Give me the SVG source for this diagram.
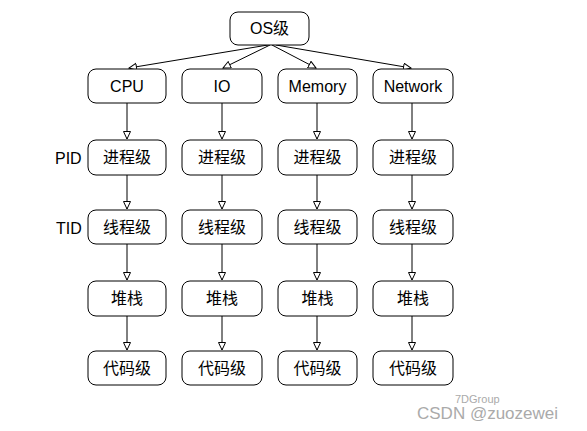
<svg xmlns="http://www.w3.org/2000/svg" width="587" height="431" viewBox="0 0 587 431">
<style>
.box{fill:#fff;stroke:#000;stroke-width:1}
.t{font-family:"Liberation Sans","Noto Sans CJK SC",sans-serif;font-size:16px;fill:#000;text-anchor:middle}
.lbl{font-family:"Liberation Sans","Noto Sans CJK SC",sans-serif;font-size:16px;fill:#000}
.c{stroke:#000;stroke-width:1;fill:none;marker-end:url(#a)}
.wm{font-family:"Liberation Sans",sans-serif;fill:#aaa}
</style>
<defs>
<marker id="a" markerUnits="userSpaceOnUse" markerWidth="10" markerHeight="10" refX="8" refY="4" orient="auto">
<path d="M0.5,0.5 L8,4 L0.5,7.5 Z" fill="#fff" stroke="#000" stroke-width="1"/>
</marker>
</defs>
<rect width="587" height="431" fill="#fff"/>
<g id="connectors">
<line class="c" x1="268" y1="45" x2="129" y2="68"/>
<line class="c" x1="270" y1="45" x2="223" y2="68"/>
<line class="c" x1="272" y1="45" x2="316" y2="68"/>
<line class="c" x1="276" y1="45" x2="411" y2="68"/>
<line class="c" x1="127" y1="103" x2="127" y2="139"/>
<line class="c" x1="222" y1="103" x2="222" y2="139"/>
<line class="c" x1="317" y1="103" x2="317" y2="139"/>
<line class="c" x1="412" y1="103" x2="412" y2="139"/>
<line class="c" x1="127" y1="175" x2="127" y2="209"/>
<line class="c" x1="222" y1="175" x2="222" y2="209"/>
<line class="c" x1="317" y1="175" x2="317" y2="209"/>
<line class="c" x1="412" y1="175" x2="412" y2="209"/>
<line class="c" x1="127" y1="244" x2="127" y2="280"/>
<line class="c" x1="222" y1="244" x2="222" y2="280"/>
<line class="c" x1="317" y1="244" x2="317" y2="280"/>
<line class="c" x1="412" y1="244" x2="412" y2="280"/>
<line class="c" x1="127" y1="316" x2="127" y2="350"/>
<line class="c" x1="222" y1="316" x2="222" y2="350"/>
<line class="c" x1="317" y1="316" x2="317" y2="350"/>
<line class="c" x1="412" y1="316" x2="412" y2="350"/>
</g>
<g id="os"><rect class="box" x="230" y="12" width="79" height="33" rx="8"/><text class="t" x="269.5" y="34">OS级</text></g>
<g id="cpu"><rect class="box" x="88" y="69" width="78" height="34" rx="8"/><text class="t" x="127" y="92">CPU</text></g>
<g id="io"><rect class="box" x="182" y="69" width="80" height="34" rx="8"/><text class="t" x="222" y="92">IO</text></g>
<g id="memory"><rect class="box" x="278" y="69" width="79" height="34" rx="8"/><text class="t" x="317.5" y="92">Memory</text></g>
<g id="network"><rect class="box" x="373" y="69" width="80" height="34" rx="8"/><text class="t" x="413" y="92">Network</text></g>
<g id="pid-label"><text class="lbl" x="55" y="164">PID</text></g>
<g id="tid-label"><text class="lbl" x="56" y="234">TID</text></g>
<g id="cpu-proc"><rect class="box" x="88" y="140" width="78" height="35" rx="8"/><text class="t" x="127" y="163">进程级</text></g>
<g id="io-proc"><rect class="box" x="182" y="140" width="80" height="35" rx="8"/><text class="t" x="222" y="163">进程级</text></g>
<g id="mem-proc"><rect class="box" x="278" y="140" width="79" height="35" rx="8"/><text class="t" x="317.5" y="163">进程级</text></g>
<g id="net-proc"><rect class="box" x="373" y="140" width="80" height="35" rx="8"/><text class="t" x="413" y="163">进程级</text></g>
<g id="cpu-thread"><rect class="box" x="88" y="210" width="78" height="34" rx="8"/><text class="t" x="127" y="233">线程级</text></g>
<g id="io-thread"><rect class="box" x="182" y="210" width="80" height="34" rx="8"/><text class="t" x="222" y="233">线程级</text></g>
<g id="mem-thread"><rect class="box" x="278" y="210" width="79" height="34" rx="8"/><text class="t" x="317.5" y="233">线程级</text></g>
<g id="net-thread"><rect class="box" x="373" y="210" width="80" height="34" rx="8"/><text class="t" x="413" y="233">线程级</text></g>
<g id="cpu-stack"><rect class="box" x="88" y="281" width="78" height="35" rx="8"/><text class="t" x="127" y="304">堆栈</text></g>
<g id="io-stack"><rect class="box" x="182" y="281" width="80" height="35" rx="8"/><text class="t" x="222" y="304">堆栈</text></g>
<g id="mem-stack"><rect class="box" x="278" y="281" width="79" height="35" rx="8"/><text class="t" x="317.5" y="304">堆栈</text></g>
<g id="net-stack"><rect class="box" x="373" y="281" width="80" height="35" rx="8"/><text class="t" x="413" y="304">堆栈</text></g>
<g id="cpu-code"><rect class="box" x="88" y="351" width="78" height="34" rx="8"/><text class="t" x="127" y="374">代码级</text></g>
<g id="io-code"><rect class="box" x="182" y="351" width="80" height="34" rx="8"/><text class="t" x="222" y="374">代码级</text></g>
<g id="mem-code"><rect class="box" x="278" y="351" width="79" height="34" rx="8"/><text class="t" x="317.5" y="374">代码级</text></g>
<g id="net-code"><rect class="box" x="373" y="351" width="80" height="34" rx="8"/><text class="t" x="413" y="374">代码级</text></g>
<g id="watermark">
<text class="wm" x="455" y="403" font-size="11">7DGroup</text>
<text class="wm" x="417" y="419" font-size="17">CSDN @zuozewei</text>
</g>
</svg>
